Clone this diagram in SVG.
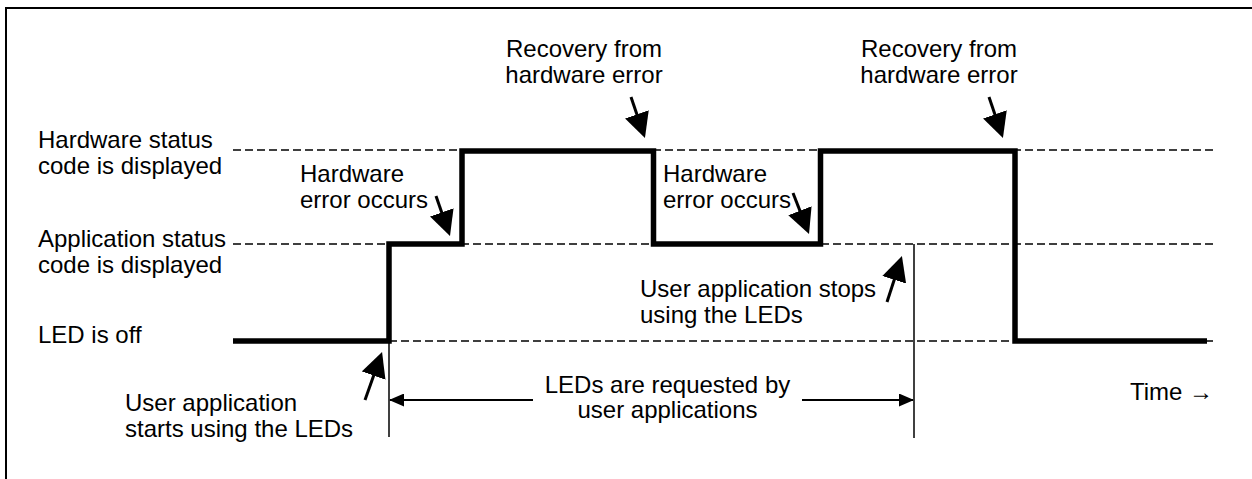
<svg xmlns="http://www.w3.org/2000/svg" width="1252" height="479" viewBox="0 0 1252 479">
  <style>
    text { font-family: "Liberation Sans", Arial, sans-serif; font-size: 24px; fill: #000; }
    .mid { text-anchor: middle; }
    .end { text-anchor: end; }
    .dash { stroke: #000; stroke-width: 1.3; stroke-dasharray: 8 4; fill: none; }
    .signal { stroke: #000; stroke-width: 5.5; fill: none; stroke-linejoin: miter; stroke-linecap: butt; }
    .thin { stroke: #000; stroke-width: 1.5; fill: none; }
    .dim { stroke: #000; stroke-width: 2; fill: none; }
    .callout { stroke: #000; stroke-width: 3; fill: none; }
  </style>
  <defs>
    <marker id="bigHead" viewBox="0 0 25 25" refX="9" refY="12.5" markerWidth="25" markerHeight="25" markerUnits="userSpaceOnUse" orient="auto">
      <path d="M0,0 L25,12.5 L0,25 z" fill="#000"/>
    </marker>
    <marker id="dimHead" viewBox="0 0 15 13" refX="14" refY="6.5" markerWidth="15" markerHeight="13" markerUnits="userSpaceOnUse" orient="auto">
      <path d="M0,0 L15,6.5 L0,13 z" fill="#000"/>
    </marker>
  </defs>

  <rect x="0" y="0" width="1252" height="479" fill="#fff"/>
  <path id="frame" d="M6,479 V8 H1252" stroke="#000" stroke-width="2" fill="none"/>

  <g id="level-labels">
    <text x="38" y="148">Hardware status</text>
    <text x="38" y="174">code is displayed</text>
    <text x="38" y="247">Application status</text>
    <text x="38" y="273">code is displayed</text>
    <text x="38" y="343">LED is off</text>
  </g>

  <g id="levels">
    <line class="dash" x1="233" y1="150" x2="1214" y2="150"/>
    <line class="dash" x1="233" y1="244" x2="1214" y2="244"/>
    <line class="dash" x1="389" y1="341" x2="1214" y2="341"/>
  </g>

  <g id="signal">
    <path class="signal" d="M233,341 H389 V244 H462 V151 H653.5 V244 H820.5 V151 H1015 V341 H1207"/>
  </g>

  <g id="connectors">
    <line class="thin" x1="389" y1="341" x2="389" y2="437"/>
    <line class="thin" x1="914" y1="244" x2="914" y2="438"/>
    <line class="dim" x1="533" y1="400" x2="390" y2="400" marker-end="url(#dimHead)"/>
    <line class="dim" x1="802" y1="400" x2="913" y2="400" marker-end="url(#dimHead)"/>
    <line class="callout" x1="436" y1="196" x2="444.7" y2="220.9" marker-end="url(#bigHead)"/>
    <line class="callout" x1="793" y1="193" x2="803.2" y2="219.1" marker-end="url(#bigHead)"/>
    <line class="callout" x1="631" y1="97" x2="639.8" y2="122.9" marker-end="url(#bigHead)"/>
    <line class="callout" x1="989" y1="97" x2="997.8" y2="122.9" marker-end="url(#bigHead)"/>
    <line class="callout" x1="887" y1="302" x2="897" y2="271.2" marker-end="url(#bigHead)"/>
    <line class="callout" x1="365" y1="400" x2="376.7" y2="367.1" marker-end="url(#bigHead)"/>
  </g>

  <g id="hw-error-1">
    <text x="300" y="182">Hardware</text>
    <text x="300" y="208">error occurs</text>
  </g>
  <g id="hw-error-2">
    <text x="663" y="182">Hardware</text>
    <text x="663" y="208">error occurs</text>
  </g>
  <g id="recovery-1">
    <text class="mid" x="584" y="57">Recovery from</text>
    <text class="mid" x="584" y="83">hardware error</text>
  </g>
  <g id="recovery-2">
    <text class="mid" x="939" y="57">Recovery from</text>
    <text class="mid" x="939" y="83">hardware error</text>
  </g>
  <g id="app-stops">
    <text x="640" y="297">User application stops</text>
    <text x="640" y="323">using the LEDs</text>
  </g>
  <g id="app-starts">
    <text x="125" y="411">User application</text>
    <text x="125" y="437">starts using the LEDs</text>
  </g>
  <g id="requested">
    <text class="mid" x="667.5" y="393">LEDs are requested by</text>
    <text class="mid" x="667.5" y="418">user applications</text>
  </g>
  <g id="time">
    <text class="end" x="1213" y="400">Time →</text>
  </g>
</svg>
